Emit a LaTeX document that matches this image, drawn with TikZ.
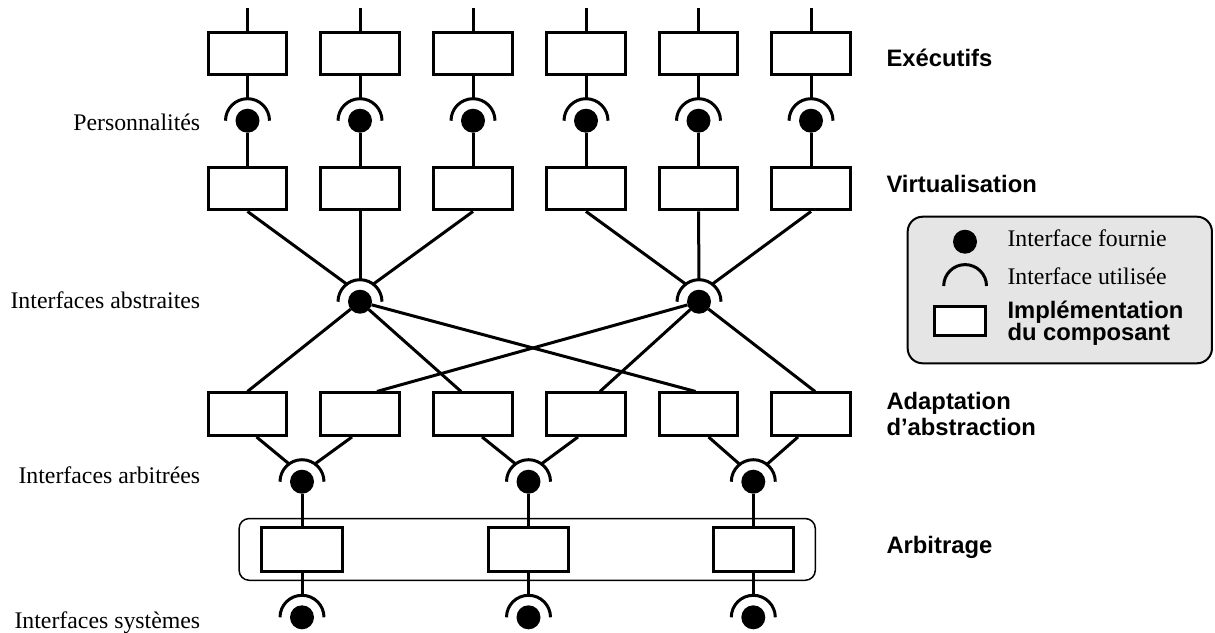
\documentclass[tikz,border=0pt]{standalone}
\usepackage{fontspec}
\setmainfont{Liberation Serif}
\newfontfamily\lsans{Liberation Sans}
\usetikzlibrary{calc}
\definecolor{legendgray}{gray}{0.9}
\begin{document}
\begin{tikzpicture}[x=0.5pt,y=-0.5pt,line width=1.5pt,
  box/.style={draw,fill=white,minimum width=39.25pt,minimum height=21.25pt,inner sep=0pt},
  arbbox/.style={draw,fill=white,minimum width=40.15pt,minimum height=21.85pt,inner sep=0pt},
  ball/.style={circle,fill=black,minimum size=12pt,inner sep=0pt,outer sep=0pt},
  sock/.style={circle,minimum size=22pt,inner sep=0pt,outer sep=0pt},
  lab/.style={anchor=base east,inner sep=0pt,font=\fontsize{11.9pt}{14pt}\selectfont},
  layer/.style={anchor=base west,inner sep=0pt,font=\lsans\bfseries\fontsize{11.9pt}{14pt}\selectfont},
  legtxt/.style={anchor=base west,inner sep=0pt,font=\fontsize{11.9pt}{14pt}\selectfont},
]
\useasboundingbox (0,0) rectangle (1215,632);

% arbitrage frame
\node[draw,line width=0.75pt,rounded corners=5pt,minimum width=288.1pt,minimum height=30.85pt] (arb) at (527.2,549.4) {};

% columns
\foreach \i/\x in {1/247.5,2/360,3/473,4/586,5/698.5,6/811}{
  \coordinate (t\i) at (\x,8);
  \node[box] (b1\i) at (\x,53.3) {};
  \node[sock] (u\i) at (\x,120.7) {};
  \node[ball] (p\i) at (\x,120.7) {};
  \node[box] (b2\i) at (\x,188.7) {};
  \node[box] (b3\i) at (\x,414.2) {};
  \draw (t\i) -- (b1\i);
  \draw (b1\i.south) -- (u\i.90);
  \draw (p\i) -- (b2\i);
}

% abstract interfaces
\node[sock] (uA) at (360,301.7) {};
\node[ball] (pA) at (360,301.7) {};
\node[sock] (uB) at (699,301.7) {};
\node[ball] (pB) at (699,301.7) {};

% arbitrated and system interfaces
\foreach \n/\x in {a/302,b/528.5,c/753.3}{
  \node[sock] (v\n) at (\x,481.7) {};
  \node[ball] (q\n) at (\x,481.7) {};
  \node[arbbox] (r\n) at (\x,549.6) {};
  \node[sock] (w\n) at (\x,617.3) {};
  \node[ball] (s\n) at (\x,617.3) {};
  \draw (q\n) -- (r\n);
  \draw (r\n.south) -- (w\n.90);
}

% arcs
\foreach \s in {u1,u2,u3,u4,u5,u6,uA,uB,va,vb,vc,wa,wb,wc}
  \draw (\s.0) arc[start angle=0,end angle=180,radius=11pt];

% virtualisation -> abstract
\draw (b21.south) -- (uA.127);
\draw (b22.south) -- (uA.90);
\draw (b23.south) -- (uA.53);
\draw (b24.south) -- (uB.127);
\draw (b25.south) -- (uB.90);
\draw (b26.south) -- (uB.53);

% abstract -> adaptation
\draw (pA) -- (b31.north);
\draw (pA) -- ([xshift=-6pt]b33.north);
\draw (pA) -- ([xshift=-1.5pt]b35.north);
\draw (pB) -- ([xshift=8.5pt]b32.north);
\draw (pB) -- ([xshift=7pt]b34.north);
\draw (pB) -- ([xshift=2pt]b36.north);

% adaptation -> arbitrated
\draw ([xshift=4.5pt]b31.south) -- (va.126);
\draw ([xshift=-4pt]b32.south) -- (va.54);
\draw ([xshift=4.5pt]b33.south) -- (vb.126);
\draw ([xshift=-4pt]b34.south) -- (vb.54);
\draw ([xshift=5pt]b35.south) -- (vc.128);
\draw ([xshift=-6.5pt]b36.south) -- (vc.52);

% left labels
\node[lab] (lPers) at (201.7,130) {Personnalités};
\node[lab] (lAbs) at (201.7,308.3) {Interfaces abstraites};
\node[lab] (lArb) at (201.7,483) {Interfaces arbitrées};
\node[lab] (lSys) at (201.7,628) {Interfaces systèmes};

% right labels
\node[layer] (rExe) at (885,66.7) {Exécutifs};
\node[layer] (rVir) at (885,192.7) {Virtualisation};
\node[layer] (rAda1) at (885,409.3) {Adaptation};
\node[layer] (rAda2) at (885,435) {d’abstraction};
\node[layer] (rArb) at (885,553.3) {Arbitrage};

% legend
\node[draw,line width=1pt,fill=legendgray,rounded corners=7.5pt,minimum width=152.15pt,minimum height=73.3pt] (legend) at (1059.8,290) {};
\node[ball] (lp) at (965,241.7) {};
\node[sock] (lg) at (964.5,286) {};
\draw (lg.0) arc[start angle=0,end angle=180,radius=10.7pt];
\node[box,minimum width=25.5pt,minimum height=14.6pt] (lb) at (960.3,321.2) {};
\node[legtxt] (lt1) at (1006,246.7) {Interface fournie};
\node[legtxt] (lt2) at (1006,284.3) {Interface utilisée};
\node[layer] (lt3) at (1006,318.3) {Implémentation};
\node[layer] (lt4) at (1006,340) {du composant};
\end{tikzpicture}
\end{document}
